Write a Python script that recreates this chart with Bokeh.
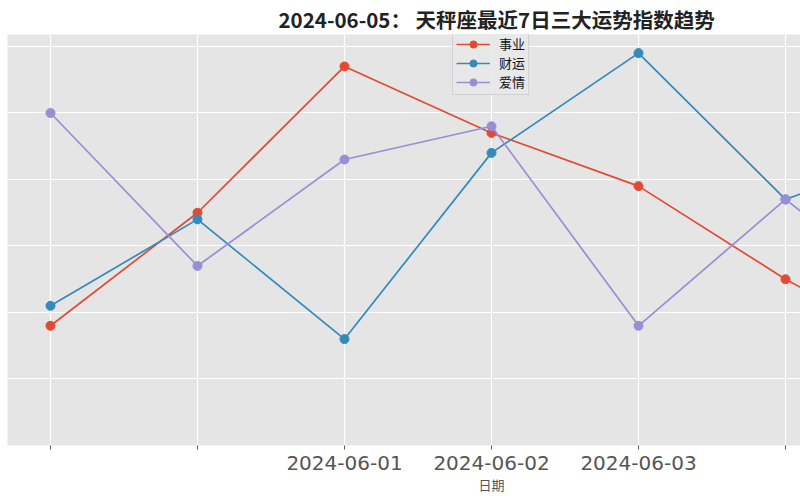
from bokeh.plotting import figure
from bokeh.models import (Range1d, FixedTicker, Legend, LegendItem, Title)
from bokeh.embed import file_html
from bokeh.resources import INLINE

dates = ["2024-05-30", "2024-05-31", "2024-06-01", "2024-06-02",
         "2024-06-03", "2024-06-04", "2024-06-05"]
tick_labels = ["", "", "2024-06-01", "2024-06-02", "2024-06-03", "", ""]
career = [28, 45, 67, 57, 49, 35, 23]
wealth = [31, 44, 26, 54, 69, 47, 55]
love = [60, 37, 53, 58, 28, 47, 30]
y_ticks = [10, 20, 30, 40, 50, 60, 70]

idx = list(range(len(dates)))

p = figure(width=800, height=500, output_backend="svg", toolbar_location=None,
           x_range=Range1d(-0.2925, 5.102), y_range=Range1d(10, 71.8),
           min_border_left=7, min_border_right=0, min_border_top=32,
           min_border_bottom=55)
p.background_fill_color = "#E5E5E5"
p.border_fill_color = "white"
p.outline_line_color = None

p.title = Title(text="2024-06-05： 天秤座最近7日三大运势指数趋势", align="left",
                offset=271, text_font="Noto Sans CJK SC", text_font_size="20.5px",
                text_font_style="bold", text_color="#222222", standoff=2)

p.xgrid.ticker = FixedTicker(ticks=idx)
p.ygrid.ticker = FixedTicker(ticks=y_ticks)
p.xgrid.grid_line_color = "white"
p.ygrid.grid_line_color = "white"
p.xgrid.grid_line_width = 1.2
p.ygrid.grid_line_width = 1.2

p.yaxis.visible = False
xa = p.xaxis[0]
xa.ticker = FixedTicker(ticks=idx)
xa.major_label_overrides = {i: t for i, t in zip(idx, tick_labels)}
xa.axis_line_color = None
xa.major_tick_line_color = "#555555"
xa.major_tick_out = 4
xa.major_tick_in = 0
xa.minor_tick_line_color = None
xa.major_label_standoff = 6
xa.major_label_text_font = "DejaVu Sans"
xa.major_label_text_font_size = "20px"
xa.major_label_text_color = "#555555"

series = [("事业", career, "#E24A33"), ("财运", wealth, "#348ABD"),
          ("爱情", love, "#988ED5")]
items = []
for name, vals, col in series:
    l = p.line(idx, vals, line_color=col, line_width=1.7)
    s = p.scatter(idx, vals, size=9, fill_color=col, line_color=col)
    items.append(LegendItem(label=name, renderers=[l, s]))

legend = Legend(items=items, location=(445, 350), orientation="vertical",
                background_fill_color="#E8E8E8", background_fill_alpha=0.9,
                border_line_color="#CCCCCC", border_line_alpha=0.8,
                margin=0, padding=3, spacing=0, glyph_width=34, glyph_height=18,
                label_height=18, label_standoff=9,
                label_text_font="Noto Sans CJK SC", label_text_font_size="13px",
                label_text_color="#111111")
p.add_layout(legend, "center")

xlab = Title(text="日期", align="left", offset=471, text_font="Noto Sans CJK SC",
             text_font_size="13px", text_font_style="normal",
             text_color="#555555", standoff=0)
p.add_layout(xlab, "below")

open("out.html", "w").write(file_html(p, INLINE))
